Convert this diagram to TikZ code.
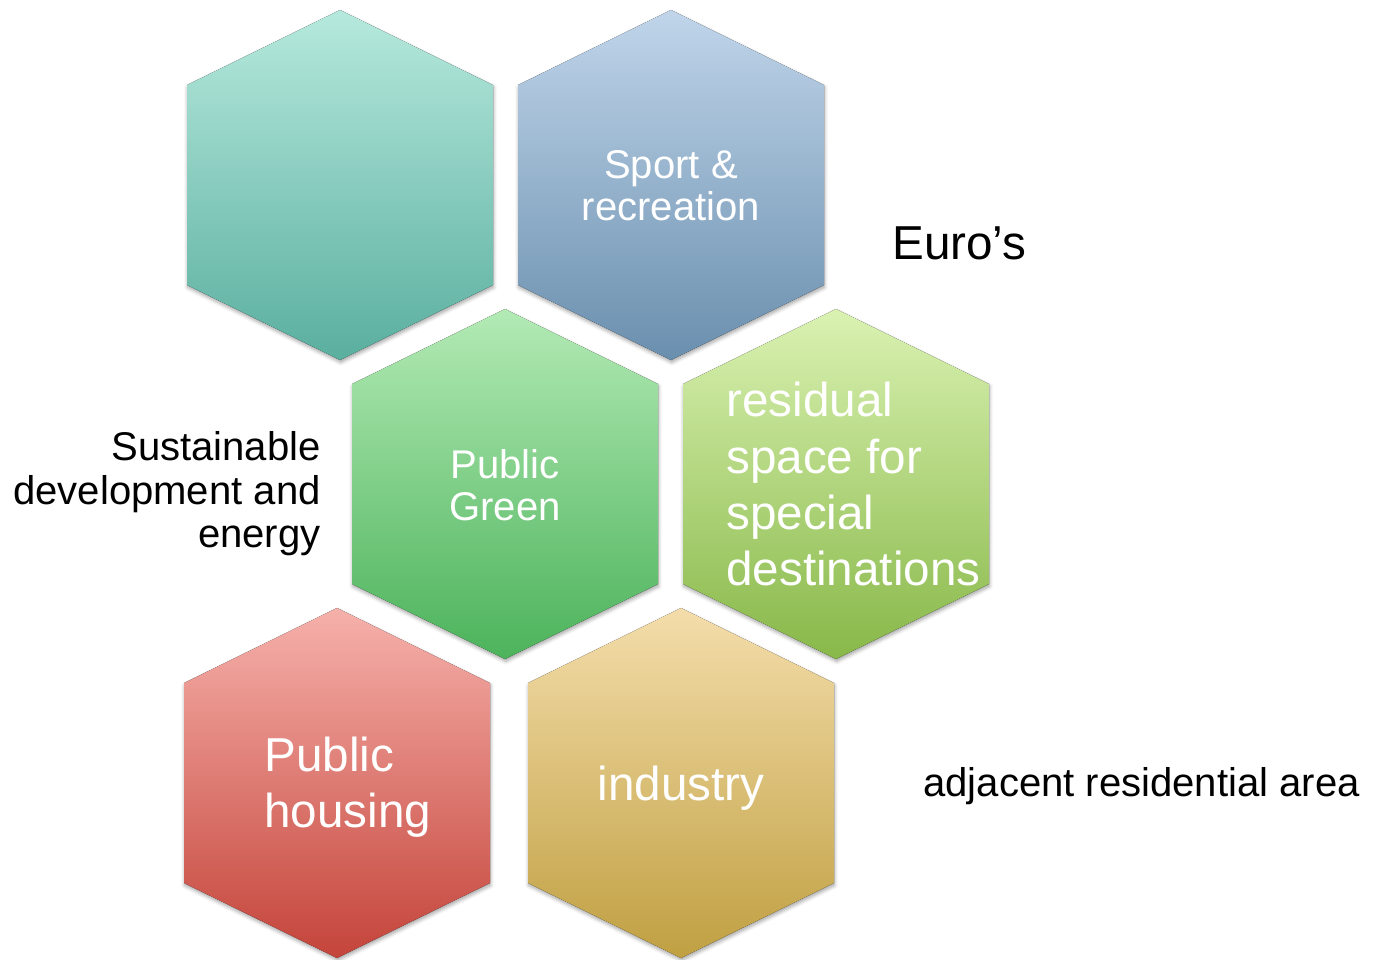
\documentclass[tikz,border=0pt]{standalone}
\usepackage{fontspec}
\setmainfont{Liberation Sans}
\usetikzlibrary{shadows.blur}

% top (A) and bottom (B) colours of each cell
\definecolor{tealA}{HTML}{B6E9DD}
\definecolor{tealB}{HTML}{5AAF9F}
\definecolor{blueA}{HTML}{C0D5EA}
\definecolor{blueB}{HTML}{6A8FAE}
\definecolor{greenA}{HTML}{B3EAB5}
\definecolor{greenB}{HTML}{4CB35B}
\definecolor{limeA}{HTML}{DAF2B2}
\definecolor{limeB}{HTML}{88B849}
\definecolor{redA}{HTML}{F6B1AB}
\definecolor{redB}{HTML}{C4443A}
\definecolor{goldA}{HTML}{F4DDAB}
\definecolor{goldB}{HTML}{C0A042}

\tikzset{
  hexcell/.style={blur shadow={shadow xshift=0.4pt, shadow yshift=-1.4pt,
      shadow blur radius=2pt, shadow opacity=35}},
  celltext/.style={text=white, inner sep=0pt, font=\fontsize{22.8}{24}\selectfont},
  bigtext/.style={text=white, inner sep=0pt, font=\fontsize{27.1}{31.9}\selectfont},
  sidetext/.style={text=black, inner sep=0pt, font=\fontsize{22.8}{24.8}\selectfont}
}

\begin{document}
\begin{tikzpicture}[x=0.02cm, y=-0.02cm]
  \useasboundingbox (0,0) rectangle (1373,960);
  % honeycomb: centre x / centre y / colour
  \foreach \cx/\cy/\col in {340/185/teal, 671/185/blue, 505/484/green,
                            836/484/lime, 337/783/red, 681/783/gold}
    \fill[hexcell, top color=\col A, bottom color=\col B]
      (\cx,\cy-175) -- (\cx+153,\cy-100) -- (\cx+153,\cy+100) -- (\cx,\cy+175)
      -- (\cx-153,\cy+100) -- (\cx-153,\cy-100) -- cycle;

  % labels inside the cells
  \node[celltext, align=center] (sport) at (671,186) {Sport \&\\recreation};
  \node[celltext, align=center] (green) at (505,485) {Public\\Green};
  \node[bigtext, align=left, anchor=west] (residual) at (726,484)
    {residual\\space for\\special\\destinations};
  \node[bigtext, align=left, anchor=west] (housing) at (264,787) {Public\\housing};
  \node[bigtext] (industry) at (681,788) {industry};

  % labels beside the cells
  \node[bigtext, text=black, anchor=west] (euros) at (892,243) {Euro’s};
  \node[sidetext, align=right, anchor=east] (sustainable) at (321,494)
    {Sustainable\\development and\\energy};
  \node[sidetext, anchor=west] (adjacent) at (923,786) {adjacent residential area};
\end{tikzpicture}
\end{document}
